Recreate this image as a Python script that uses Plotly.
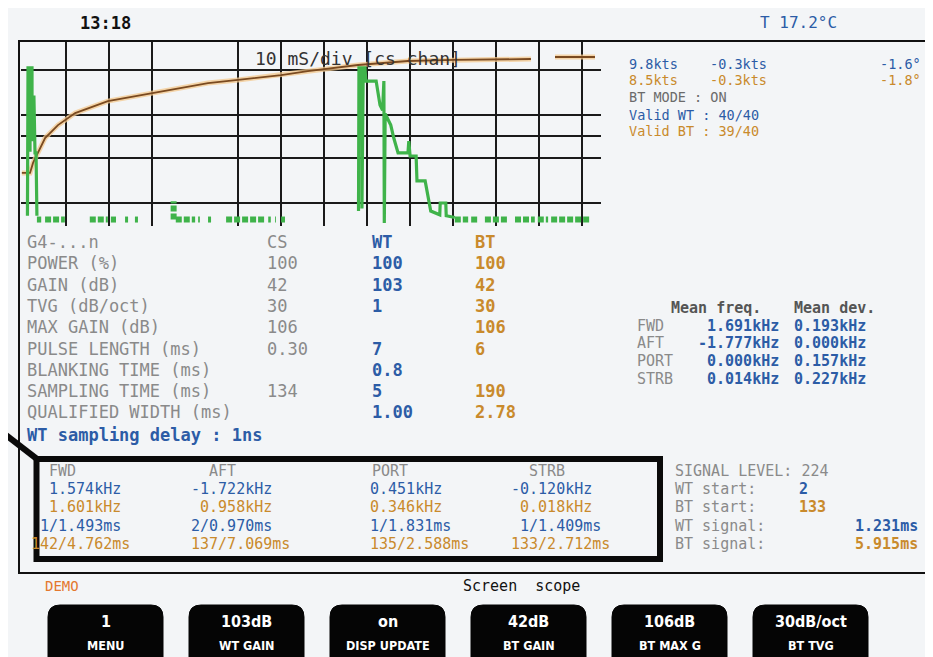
import plotly.graph_objects as go

W, H = 933, 657
MONO = "DejaVu Sans Mono"
BLUE = "#2c5ca6"
ORANGE = "#c98a2c"
GRAY = "#8a8a8a"
DARK = "#555555"
BG = "#f3f5f7"
GREEN = "#3fb34a"

# ---------------- scope data (time in ms, amplitude in % of screen) -------------
cs_t = [-0.3, 1.6, 2.3, 3.5, 5.1, 8.1, 12.1, 19.7, 29.7, 43.0, 50.0, 60.0, 66.2,
        77.9, 89.5, 100.4, 118.1, None, 123.7, 133.0]
cs_amp = [27.5, 27.5, 33.0, 38.5, 46.7, 53.8, 60.4, 67.0, 71.4, 76.9, 78.6, 81.3,
          83.5, 86.8, 89.0, 89.6, 90.1, None, 91.2, 91.2]

wt_t = [1.0, 1.13, 1.4, 1.4, 1.6, 1.6, 2.06, 2.06, 2.5, 2.76, 3.0, 3.2, None,
        78.0, 78.1, 78.8, 78.8, 79.1, 79.5, 79.7, 82.1, 83.0, 83.6, 83.9, 84.0,
        84.2, 85.5, 86.2, 87.2, 89.5, 89.7, 90.0, 91.4, 91.6, 93.5, 94.8, 96.9,
        97.0, 98.3, 98.4, 100.4]
wt_amp = [4, 85.2, 85.2, 40, 40, 85.2, 85.2, 45, 70, 38.5, 38.5, 4, None,
          6.6, 85.2, 85.2, 8, 85.2, 85.2, 78, 78, 64.8, 62, 78, 0,
          60, 53.8, 46.7, 38.5, 38.5, 45, 36.8, 36.8, 23.1, 23.1, 6.6, 4.5,
          11, 11, 4, 3]

noise_start = [3.2, 5.1, 15.5, 20.4, 23.7, 26.0, 35.5, 40.7, 43.0, 47.2, 57.0,
               58.6, 60.0, 100.4, 104.2, 107.4, 114.4, 119.7, 122.8]
noise_end = [4.2, 9.7, 19.7, 21.6, 24.4, 26.7, 40.0, 41.1, 43.7, 56.2, 57.6,
             58.8, 60.9, 103.5, 105.8, 112.8, 119.0, 122.1, 132.1]
noise_level = 1.9
spike_t = [35.0]
spike_amp = [12.0]

grid_t = [10, 20, 30, 50, 60, 70, 80, 90, 100, 110, 120, 130]
level_lines = [84.1, 59.3, 47.8, 35.7, 11.0]

# ---------------- text data ----------------
time_label = "13:18"
temp_label = "T 17.2°C"
scope_title = "10 mS/div [cs chan]"

speed_wt = ["9.8kts", "-0.3kts", "-1.6°"]
speed_bt = ["8.5kts", "-0.3kts", "-1.8°"]
bt_mode = "BT MODE : ON"
valid_wt = "Valid WT : 40/40"
valid_bt = "Valid BT : 39/40"

param_labels = ["G4-...n", "POWER (%)", "GAIN (dB)", "TVG (dB/oct)", "MAX GAIN (dB)",
                "PULSE LENGTH (ms)", "BLANKING TIME (ms)", "SAMPLING TIME (ms)",
                "QUALIFIED WIDTH (ms)"]
cs_col = ["CS", "100", "42", "30", "106", "0.30", "", "134", ""]
wt_col = ["WT", "100", "103", "1", "", "7", "0.8", "5", "1.00"]
bt_col = ["BT", "100", "42", "30", "106", "6", "", "190", "2.78"]
wt_delay = "WT sampling delay : 1ns"

mean_heads = ["Mean freq.", "Mean dev."]
mean_labels = ["FWD", "AFT", "PORT", "STRB"]
mean_freq = ["1.691kHz", "-1.777kHz", "0.000kHz", "0.014kHz"]
mean_dev = ["0.193kHz", "0.000kHz", "0.157kHz", "0.227kHz"]

box_heads = ["FWD", "AFT", "PORT", "STRB"]
box_wt_freq = ["1.574kHz", "-1.722kHz", "0.451kHz", "-0.120kHz"]
box_bt_freq = ["1.601kHz", " 0.958kHz", "0.346kHz", " 0.018kHz"]
box_wt_time = ["1/1.493ms", "2/0.970ms", "1/1.831ms", " 1/1.409ms"]
box_bt_time = ["142/4.762ms", "137/7.069ms", "135/2.588ms", "133/2.712ms"]

sig_level = "SIGNAL LEVEL: 224"
sig_labels = ["WT start:", "BT start:", "WT signal:", "BT signal:"]
sig_values = ["2", "133", "1.231ms", "5.915ms"]

demo_label = "DEMO"
screen_label = "Screen  scope"
button_top = ["1", "103dB", "on", "42dB", "106dB", "30dB/oct"]
button_bottom = ["MENU", "WT GAIN", "DISP UPDATE", "BT GAIN", "BT MAX G", "BT TVG"]

# ---------------- figure ----------------
fig = go.Figure()

nx, ny = [], []
for a, b in zip(noise_start, noise_end):
    nx += [a, b, None]
    ny += [noise_level, noise_level, None]
for t, a in zip(spike_t, spike_amp):
    nx += [t, t, None]
    ny += [noise_level, a, None]

fig.add_trace(go.Scatter(x=nx, y=ny, mode="lines",
                         line=dict(color=GREEN, width=6, dash="6px,2px"),
                         hoverinfo="skip"))
fig.add_trace(go.Scatter(x=cs_t, y=cs_amp, mode="lines",
                         line=dict(color="#f5c98e", width=5), opacity=0.75,
                         hoverinfo="skip"))
fig.add_trace(go.Scatter(x=cs_t, y=cs_amp, mode="lines",
                         line=dict(color="#7a4a20", width=1.8), hoverinfo="skip"))
fig.add_trace(go.Scatter(x=wt_t, y=wt_amp, mode="lines",
                         line=dict(color=GREEN, width=3.2), hoverinfo="skip"))


def px(x):
    return x / W


def py(y):
    return 1 - y / H


fig.update_xaxes(domain=[px(13), px(593)], range=[-0.5, 134.4],
                 tickvals=grid_t, showticklabels=False, ticks="",
                 showgrid=True, gridcolor="#1a1a1a", gridwidth=1.5,
                 zeroline=False, showline=False, fixedrange=True)
fig.update_yaxes(domain=[py(218), py(33)], range=[-1.65, 100],
                 tickvals=level_lines, showticklabels=False, ticks="",
                 showgrid=True, gridcolor="#1a1a1a", gridwidth=1.5,
                 zeroline=False, showline=False, fixedrange=True)

ann = []


def txt(x, y, s, color, size=17, anchor="left", bold=False, family=MONO):
    if bold:
        s = "<b>" + s + "</b>"
    ann.append(dict(x=px(x), y=py(y), xref="paper", yref="paper", text=s,
                    showarrow=False, xanchor=anchor, yanchor="middle",
                    font=dict(family=family, size=size, color=color)))


def nb(s):
    return s.replace(" ", "\u00a0")


# top bar
txt(97, 15, time_label, "#111111", size=17, anchor="center", bold=True)
txt(790, 15, temp_label, BLUE, size=16, anchor="center")

# scope title
txt(245, 50, nb(scope_title), "#333333", size=18)

# upper-right panel
RS = 13.5
txt(619, 56, speed_wt[0], BLUE, size=RS)
txt(700, 56, speed_wt[1], BLUE, size=RS)
txt(915, 56, speed_wt[2], BLUE, size=RS, anchor="right")
txt(619, 72, speed_bt[0], ORANGE, size=RS)
txt(700, 72, speed_bt[1], ORANGE, size=RS)
txt(915, 72, speed_bt[2], ORANGE, size=RS, anchor="right")
txt(619, 89, nb(bt_mode), "#6b6b6b", size=RS)
txt(619, 107, nb(valid_wt), BLUE, size=RS)
txt(619, 123, nb(valid_bt), ORANGE, size=RS)

# parameter table
row_y0, row_dy = 234, 21.3
for i, lab in enumerate(param_labels):
    y = row_y0 + i * row_dy
    txt(17, y, nb(lab), GRAY)
    if cs_col[i]:
        txt(257, y, cs_col[i], GRAY)
    if wt_col[i]:
        txt(362, y, wt_col[i], BLUE, bold=True)
    if bt_col[i]:
        txt(465, y, bt_col[i], ORANGE, bold=True)
txt(17, 427, nb(wt_delay), BLUE, bold=True)

# mean frequency block
FS = 15
mean_y0, mean_dy = 300, 17.7
txt(661, mean_y0, nb(mean_heads[0]), DARK, size=FS, bold=True)
txt(784, mean_y0, nb(mean_heads[1]), DARK, size=FS, bold=True)
for i, lab in enumerate(mean_labels):
    y = mean_y0 + (i + 1) * mean_dy
    txt(627, y, lab, GRAY, size=FS)
    txt(773, y, mean_freq[i], BLUE, size=FS, anchor="right", bold=True)
    txt(784, y, mean_dev[i], BLUE, size=FS, bold=True)

# boxed per-beam results
box_cols = [39, 199, 362, 519]
box_y = [463, 481.2, 499.4, 517.6, 535.8]
for j, h in enumerate(box_heads):
    txt(box_cols[j], box_y[0], h, GRAY, size=FS)
val_cols = [39, 181, 360, 501]
for j in range(4):
    txt(val_cols[j], box_y[1], nb(box_wt_freq[j]), BLUE, size=FS)
    txt(val_cols[j], box_y[2], nb(box_bt_freq[j]), ORANGE, size=FS)
    txt(val_cols[j] - (9 if j == 0 else 0), box_y[3], nb(box_wt_time[j]), BLUE, size=FS)
    txt(val_cols[j] - (18 if j == 0 else 0), box_y[4], nb(box_bt_time[j]), ORANGE, size=FS)

# signal panel
txt(665, box_y[0], nb(sig_level), GRAY, size=FS)
sig_colors = [BLUE, ORANGE, BLUE, ORANGE]
for i, lab in enumerate(sig_labels):
    y = box_y[i + 1]
    txt(665, y, nb(lab), GRAY, size=FS)
    if i < 2:
        txt(789, y, sig_values[i], sig_colors[i], size=FS, bold=True)
    else:
        txt(912, y, sig_values[i], sig_colors[i], size=FS, anchor="right", bold=True)

# bottom soft-key area
txt(35, 578, demo_label, "#e4782e", size=14)
txt(453, 578, nb(screen_label), "#111111", size=15)

shapes = []
# outer frame
shapes.append(dict(type="rect", xref="paper", yref="paper",
                   x0=px(11), x1=px(923), y0=py(565), y1=py(33),
                   line=dict(color="#111111", width=2), layer="above"))
# highlight box and callout line
shapes.append(dict(type="rect", xref="paper", yref="paper",
                   x0=px(28.5), x1=px(652), y0=py(551), y1=py(451),
                   line=dict(color="#0a0a0a", width=6), layer="above"))
shapes.append(dict(type="line", xref="paper", yref="paper",
                   x0=px(-6), y0=py(424), x1=px(29), y1=py(451),
                   line=dict(color="#0a0a0a", width=6), layer="above"))

# buttons
b_x0, b_w, b_pitch, b_top, b_bot, r = 40, 115, 141, 597, 700, 12
for i, (t1, t2) in enumerate(zip(button_top, button_bottom)):
    x0 = b_x0 + i * b_pitch
    x1 = x0 + b_w
    path = (f"M {px(x0)},{py(b_bot)} L {px(x0)},{py(b_top + r)} "
            f"Q {px(x0)},{py(b_top)} {px(x0 + r)},{py(b_top)} "
            f"L {px(x1 - r)},{py(b_top)} Q {px(x1)},{py(b_top)} {px(x1)},{py(b_top + r)} "
            f"L {px(x1)},{py(b_bot)} Z")
    shapes.append(dict(type="path", xref="paper", yref="paper", path=path,
                       fillcolor="#050505", line=dict(color="#050505", width=1),
                       layer="above"))
    cx = (x0 + x1) / 2
    txt(cx, 613, nb(t1), "#ffffff", size=16, anchor="center", bold=True,
        family="Liberation Sans Narrow, DejaVu Sans Condensed, Liberation Sans")
    txt(cx, 637, nb(t2), "#ffffff", size=12.5, anchor="center", bold=True,
        family="Liberation Sans Narrow, DejaVu Sans Condensed, Liberation Sans")

fig.update_layout(width=W, height=H, margin=dict(l=0, r=0, t=0, b=0),
                  paper_bgcolor=BG, plot_bgcolor="rgba(0,0,0,0)",
                  showlegend=False, annotations=ann, shapes=shapes)

fig.write_html("out.html")
